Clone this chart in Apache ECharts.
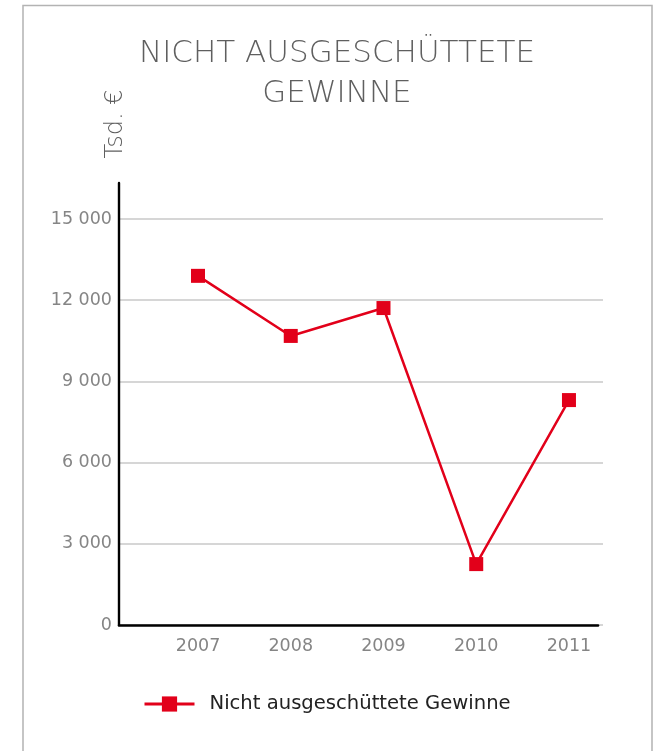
<!DOCTYPE html>
<html>
<head>
<meta charset="utf-8">
<script src="https://cdn.jsdelivr.net/npm/echarts@6/dist/echarts.min.js"></script>
<style>
html,body{margin:0;padding:0;background:#fff;}
#chart{width:667px;height:751px;}
</style>
</head>
<body>
<div id="chart"></div>
<script>
// ---- data ----
const years = [2007, 2008, 2009, 2010, 2011];
const values = [12900, 10680, 11710, 2250, 8310];
const yTicks = [0, 3000, 6000, 9000, 12000, 15000];
const seriesName = 'Nicht ausgeschüttete Gewinne';
const titleText = 'NICHT AUSGESCHÜTTETE\nGEWINNE';
const unitText = 'Tsd. €';

const RED = '#e2001a';
const GRAY = '#858585';
const FONT = 'DejaVu Sans';

function fmt(v){ return String(v).replace(/\B(?=(\d{3})+(?!\d))/g, ' '); }

const chart = echarts.init(document.getElementById('chart'), null, {renderer:'canvas'});
const option = {
  animation: false,
  backgroundColor: '#fff',
  title: {
    text: titleText,
    left: 332,
    top: 29,
    textAlign: 'center',
    textStyle: {fontFamily: FONT, fontWeight: 200, fontSize: 31, lineHeight: 40, color: '#5f5f5f'}
  },
  graphic: [
    {type:'rect', shape:{x:23, y:5.5, width:629, height:800}, style:{fill:'none', stroke:'#b3b3b3', lineWidth:1.5}, silent:true},
    {type:'text', x:116, y:124, rotation: Math.PI/2,
     style:{text: unitText, font: '200 24px "DejaVu Sans"', fill:'#5f5f5f', align:'center', verticalAlign:'middle'}}
  ],
  legend: {
    data: [seriesName],
    left: 143,
    top: 694,
    padding: 0,
    itemWidth: 50,
    itemHeight: 19,
    lineStyle: {width: 3},
    textStyle: {fontFamily: FONT, fontSize: 19.6, color: '#222', padding:[0,0,0,10]}
  },
  grid: [
    {left: 119, right: 64, top: 219, bottom: 126, containLabel: false},
    {left: 119, right: 69, top: 183, bottom: 126, containLabel: false}
  ],
  xAxis: [
    {type:'value', gridIndex:0, min: 2006.148, max: 2011.367, minInterval:1, maxInterval:1,
     axisLine:{show:false}, axisTick:{show:false}, splitLine:{show:false},
     axisLabel:{margin:12, fontFamily:FONT, fontSize:17.5, color:GRAY,
       formatter: v => years.indexOf(Math.round(v*1000)/1000) >= 0 ? String(v) : '',
       showMinLabel:true, showMaxLabel:true}},
    {type:'value', gridIndex:1, min:0, max:1, show:true,
     axisLine:{show:true, onZero:false, lineStyle:{color:'#000', width:2.6}},
     axisTick:{show:false}, axisLabel:{show:false}, splitLine:{show:false}}
  ],
  yAxis: [
    {type:'value', gridIndex:0, min:0, max:15000, interval:3000,
     axisLine:{show:false}, axisTick:{show:false},
     splitLine:{show:true, lineStyle:{color:'#c8c8c8', width:1.5}},
     axisLabel:{margin:7, fontFamily:FONT, fontSize:17.5, color:GRAY,
       formatter: v => yTicks.indexOf(v) >= 0 ? fmt(v) : ''}},
    {type:'value', gridIndex:1, min:0, max:1,
     axisLine:{show:true, onZero:false, lineStyle:{color:'#000', width:2.4}},
     axisTick:{show:false}, axisLabel:{show:false}, splitLine:{show:false}}
  ],
  series: [{
    name: seriesName,
    type: 'line',
    xAxisIndex: 0, yAxisIndex: 0,
    data: years.map((y, i) => [y, values[i]]),
    symbol: 'rect',
    symbolSize: 14,
    lineStyle: {color: RED, width: 2.5},
    itemStyle: {color: RED},
    z: 5
  }]
};
chart.setOption(option);
</script>
</body>
</html>
